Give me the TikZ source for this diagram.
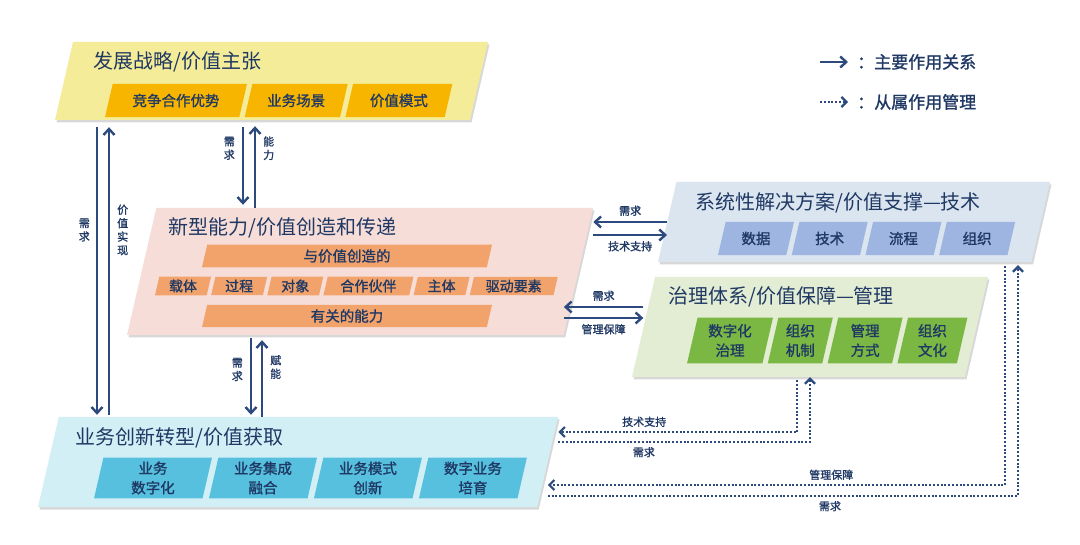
\documentclass[tikz,border=0pt]{standalone}
\usepackage{fontspec}
\setmainfont{Noto Sans CJK SC}
\newfontfamily\boxfont{Noto Sans CJK SC}[FakeBold=1.2]
\usepackage{xcolor}
\usetikzlibrary{shapes.geometric,arrows.meta,positioning,shadows}

\definecolor{ink}{HTML}{1F3864}
\definecolor{arrowblue}{HTML}{2C4A7E}
\definecolor{yelpanel}{HTML}{F4EC98}
\definecolor{yelbox}{HTML}{F7B500}
\definecolor{capanel}{HTML}{F7DDD7}
\definecolor{capbox}{HTML}{F2A36C}
\definecolor{techpanel}{HTML}{DAE5EF}
\definecolor{techbox}{HTML}{9FB5E1}
\definecolor{govpanel}{HTML}{E3EDD3}
\definecolor{govbox}{HTML}{7BB843}
\definecolor{bizpanel}{HTML}{D3EFF6}
\definecolor{bizbox}{HTML}{56C0DE}

\begin{document}
\begin{tikzpicture}[
    x=1pt, y=-1pt,
    text=ink,
    font=\boxfont\fontsize{14.5}{19.5}\selectfont,
    slanted/.style={trapezium, trapezium left angle=77, trapezium right angle=103, trapezium stretches body=true, inner xsep=0pt, align=center},
    panel/.style={slanted, fill=#1, drop shadow={shadow xshift=1.5pt, shadow yshift=-2.5pt, fill=black!25, opacity=.6}},
    sbox/.style={slanted, fill=yelbox, minimum height=33pt, inner ysep=10pt},
    cbar/.style={slanted, fill=capbox, minimum height=22pt, inner ysep=4.5pt},
    cbox/.style={slanted, fill=capbox, minimum height=18pt, inner ysep=2.8pt, font=\boxfont\fontsize{14}{16}\selectfont},
    tbox/.style={slanted, fill=techbox, minimum height=33pt, inner ysep=10pt},
    gbox/.style={slanted, fill=govbox, minimum height=45pt, inner ysep=6.5pt},
    bbox/.style={slanted, fill=bizbox, minimum height=40pt, inner ysep=4pt},
    heading/.style={anchor=west, inner sep=0pt, font=\rmfamily\fontsize{20}{22}\selectfont},
    arrow/.style={-{Straight Barb[length=6pt,width=11pt]}, line width=2.4pt, draw=arrowblue},
    subarrow/.style={-{Straight Barb[length=5pt,width=10pt]}, line width=2.2pt, draw=arrowblue, dash pattern=on 2pt off 1.8pt},
    lbl/.style={font=\boxfont\fontsize{11}{13.5}\selectfont, inner sep=2pt, align=center}
]
    \path[fill=white, use as bounding box] (0,0) rectangle (1080,545);

    % panels
    \node[panel=yelpanel, minimum width=433pt, minimum height=78pt, inner ysep=39pt] (STRAT) at (271.5,81) {};
    \node[panel=capanel, minimum width=466pt, minimum height=127pt, inner ysep=63.5pt] (CAP) at (360,271.5) {};
    \node[panel=techpanel, minimum width=392pt, minimum height=80pt, inner ysep=40pt] (TECH) at (854,222) {};
    \node[panel=govpanel, minimum width=356pt, minimum height=100pt, inner ysep=50pt] (GOV) at (810,327) {};
    \node[panel=bizpanel, minimum width=520pt, minimum height=90pt, inner ysep=45pt] (BIZ) at (298,462) {};

    \node[heading] (STRATT) at (93,62) {发展战略/价值主张};
    \node[heading] (CAPT) at (168,228) {新型能力/价值创造和传递};
    \node[heading] (TECHT) at (695,203) {系统性解决方案/价值支撑—技术};
    \node[heading] (GOVT) at (668,297) {治理体系/价值保障—管理};
    \node[heading] (BIZT) at (75,438) {业务创新转型/价值获取};

    \node[sbox, minimum width=142pt] (S1) at (176,100.5) {竞争合作优势};
    \node[sbox, minimum width=103pt, right=5pt of S1] (S2) {业务场景};
    \node[sbox, minimum width=107pt, right=5pt of S2] (S3) {价值模式};

    \node[cbar, minimum width=290pt] (C1) at (347,256) {与价值创造的};
    \node[cbox, minimum width=56pt] (C2) at (183,286) {载体};
    \node[cbox, minimum width=56pt, right=4pt of C2] (C3) {过程};
    \node[cbox, minimum width=56pt, right=4pt of C3] (C4) {对象};
    \node[cbox, minimum width=90pt, right=4pt of C4] (C5) {合作伙伴};
    \node[cbox, minimum width=56pt, right=4pt of C5] (C6) {主体};
    \node[cbox, minimum width=88pt, right=4pt of C6] (C7) {驱动要素};
    \node[cbar, minimum width=290pt] (C8) at (347,316) {有关的能力};

    \node[tbox, minimum width=76pt] (T1) at (756,238.5) {数据};
    \node[tbox, minimum width=76pt, right=5pt of T1] (T2) {技术};
    \node[tbox, minimum width=76pt, right=5pt of T2] (T3) {流程};
    \node[tbox, minimum width=76pt, right=5pt of T3] (T4) {组织};

    \node[gbox, minimum width=86pt] (G1) at (730,340.5) {数字化\\治理};
    \node[gbox, minimum width=65pt, right=5pt of G1] (G2) {组织\\机制};
    \node[gbox, minimum width=75pt, right=5pt of G2] (G3) {管理\\方式};
    \node[gbox, minimum width=70pt, right=5pt of G3] (G4) {组织\\文化};

    \node[bbox, minimum width=118pt] (B1) at (153,478) {业务\\数字化};
    \node[bbox, minimum width=108pt, right=6pt of B1] (B2) {业务集成\\融合};
    \node[bbox, minimum width=108pt, right=6pt of B2] (B3) {业务模式\\创新};
    \node[bbox, minimum width=108pt, right=6pt of B3] (B4) {数字业务\\培育};

    % legend
    \node[anchor=west, inner sep=0pt, font=\boxfont\fontsize{17}{20}\selectfont] (LEG1) at (857,62) {：主要作用关系};
    \node[anchor=west, inner sep=0pt, font=\boxfont\fontsize{17}{20}\selectfont] (LEG2) at (857,102) {：从属作用管理};
    \coordinate[left=37pt of LEG1.west] (k1);
    \coordinate[left=37pt of LEG2.west] (k2);
    \draw[arrow] (k1) -- ([xshift=-9pt]LEG1.west);
    \draw[subarrow] (k2) -- ([xshift=-9pt]LEG2.west);

    % main relations
    \coordinate (a1) at (97,0);  \coordinate (a2) at (109,0);
    \coordinate (b1) at (243,0); \coordinate (b2) at (255,0);
    \coordinate (c1) at (251,0); \coordinate (c2) at (262,0);
    \coordinate (r1) at (0,222); \coordinate (r2) at (0,235);
    \coordinate (g1) at (0,307); \coordinate (g2) at (0,318);

    \draw[arrow, shorten <=7pt, shorten >=2pt] (a1 |- STRAT.south) -- node[lbl, left=4pt, pos=.37] (n1) {需\\求} (a1 |- BIZ.north);
    \draw[arrow, shorten <=2pt, shorten >=7pt] (a2 |- BIZ.north) -- node[lbl, right=5pt, pos=.63] (n2) {价\\值\\实\\现} (a2 |- STRAT.south);
    \draw[arrow, shorten <=7pt, shorten >=3pt] (b1 |- STRAT.south) -- node[lbl, left=5pt, pos=.32] (n3) {需\\求} (b1 |- CAP.north);
    \draw[arrow, shorten >=6pt] (b2 |- CAP.north) -- node[lbl, right=5pt, pos=.68] (n4) {能\\力} (b2 |- STRAT.south);
    \draw[arrow, shorten <=3pt, shorten >=2pt] (c1 |- CAP.south) -- node[lbl, left=5pt, pos=.42] (n5) {需\\求} (c1 |- BIZ.north);
    \draw[arrow, shorten >=5pt] (c2 |- BIZ.north) -- node[lbl, right=5pt, pos=.61] (n6) {赋\\能} (c2 |- CAP.south);

    \draw[arrow] (TECH.west |- r1) -- node[lbl, above=3pt] (n7) {需求} (CAP.top right corner |- r1);
    \draw[arrow] (CAP.top right corner |- r2) -- node[lbl, below=3pt] (n8) {技术支持} (TECH.west |- r2);
    \draw[arrow] (GOV.west |- g1) -- node[lbl, above=3pt] (n9) {需求} (CAP.bottom right corner |- g1);
    \draw[arrow] (CAP.bottom right corner |- g2) -- node[lbl, below=3pt] (n10) {管理保障} (GOV.west |- g2);

    % subordinate relations
    \coordinate (d1) at (797,0);  \coordinate (d2) at (810,0);
    \coordinate (d3) at (1005,0); \coordinate (d4) at (1018,0);
    \coordinate (t1) at (0,432);  \coordinate (t2) at (0,442);
    \coordinate (t3) at (0,485);  \coordinate (t4) at (0,496);

    \draw[subarrow, shorten <=3pt] (d1 |- GOV.south) |- node[lbl, above=2pt, pos=.82] (n11) {技术支持} (BIZ.top right corner |- t1);
    \draw[subarrow] (BIZ.top right corner |- t2) -| node[lbl, below=2pt, pos=.17] (n12) {需求} (d2 |- GOV.south);
    \draw[subarrow, shorten <=4pt] (d3 |- TECH.south) |- node[lbl, above=2pt, pos=.69] (n13) {管理保障} (BIZ.east |- t3);
    \draw[subarrow, shorten >=3pt] (BIZ.east |- t4) -| node[lbl, below=2pt, pos=.3] (n14) {需求} (d4 |- TECH.south);
\end{tikzpicture}
\end{document}
